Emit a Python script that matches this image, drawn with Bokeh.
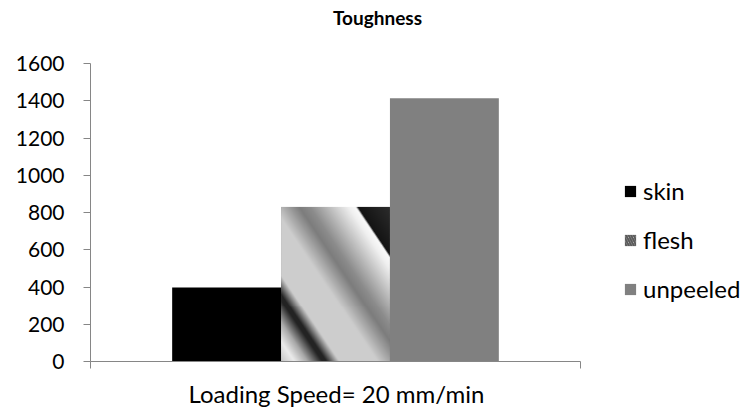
import numpy as np
from bokeh.plotting import figure
from bokeh.models import (Range1d, FixedTicker, Legend, LegendItem, Label,
                          Title, ColumnDataSource)
from bokeh.embed import file_html
from bokeh.resources import INLINE

# ---- data ----
title_text = "Toughness"
categories = ["Loading Speed= 20 mm/min"]
series = ["skin", "flesh", "unpeeled"]
values = [397, 830, 1413]
y_ticks = [0, 200, 400, 600, 800, 1000, 1200, 1400, 1600]
colors = ["#000000", "#d0d0d0", "#808080"]

FONT = "Lato"
AXIS_COLOR = "#868686"

# layout (pixels)
W_FIG, H_FIG = 746, 417
LEFT, BOTTOM = 90, 56          # frame starts at left=90, ends at bottom y=361
AXIS_PX = 490                   # length of the x axis
VAL_PX = 298                    # pixels from 0 to 1600
frame_w = W_FIG - LEFT
frame_h = H_FIG - BOTTOM
y_max = y_ticks[-1]

p = figure(width=W_FIG, height=H_FIG, output_backend="svg", toolbar_location=None,
           x_range=Range1d(0, len(categories) * frame_w / AXIS_PX),
           y_range=Range1d(0, y_max * frame_h / VAL_PX),
           min_border_left=LEFT, min_border_right=0, min_border_top=0,
           min_border_bottom=BOTTOM)
p.outline_line_color = None
p.xgrid.visible = False
p.ygrid.visible = False
p.background_fill_color = "white"
p.border_fill_color = "white"

# bar geometry: Excel gap width 150 %
bw = 1.0 / (len(series) + 1.5)
renderers = []
for i, (s, v, c) in enumerate(zip(series, values, colors)):
    cx = 0.5 + (i - (len(series) - 1) / 2) * bw
    src = ColumnDataSource(dict(x=[cx], top=[v]))
    if s == "flesh":
        r = p.vbar(x="x", top="top", bottom=0, width=bw, source=src,
                   fill_color=c, line_color=None,
                   hatch_pattern="left_diagonal_line", hatch_color="#5a5a5a",
                   hatch_scale=5, hatch_weight=2)
        # metallic diagonal texture drawn over the bar
        H, W = 156, 109
        rows, cols = np.mgrid[0:H, 0:W]
        ys = (H - 1) - rows
        u = 3.0 * cols - 2.0 * ys
        umin, umax = -2.0 * (H - 1), 3.0 * (W - 1)
        t = (u - umin) / (umax - umin)
        tp = [0.0, 0.06, 0.12, 0.19, 0.21, 0.27, 0.45, 0.57, 0.62, 0.80, 0.835, 0.845, 1.0]
        gp = [200, 235, 170, 35, 35, 205, 205, 125, 140, 240, 250, 20, 45]
        g = np.interp(t, tp, gp).astype(np.uint8)
        img = np.empty((H, W), dtype=np.uint32)
        view = img.view(dtype=np.uint8).reshape((H, W, 4))
        view[..., 0] = g
        view[..., 1] = g
        view[..., 2] = g
        view[..., 3] = 255
        p.image_rgba(image=[img], x=cx - bw / 2, y=0, dw=bw, dh=v)
    else:
        r = p.vbar(x="x", top="top", bottom=0, width=bw, source=src,
                   fill_color=c, line_color=None)
    renderers.append(r)

# axes
p.yaxis.ticker = FixedTicker(ticks=y_ticks)
p.yaxis.bounds = (0, y_max)
p.yaxis.axis_line_color = AXIS_COLOR
p.yaxis.major_tick_line_color = AXIS_COLOR
p.yaxis.major_tick_out = 7
p.yaxis.major_tick_in = 0
p.yaxis.minor_tick_line_color = None
p.yaxis.major_label_text_font = FONT
p.yaxis.major_label_text_font_size = "21px"
p.yaxis.major_label_text_color = "#000000"
p.yaxis.major_label_standoff = 19

# x axis: only the category boundary marks (as minor ticks, no labels)
p.xaxis.ticker = FixedTicker(ticks=[], minor_ticks=[0, len(categories)])
p.xaxis.bounds = (0, len(categories))
p.xaxis.axis_line_color = AXIS_COLOR
p.xaxis.major_tick_line_color = None
p.xaxis.minor_tick_line_color = AXIS_COLOR
p.xaxis.minor_tick_out = 7
p.xaxis.minor_tick_in = 0
p.xaxis.major_label_standoff = 0

# category caption under the x axis, centred on the axis (not on the frame)
p.add_layout(Title(text=categories[0], align="left", offset=98,
                   standoff=17, text_font=FONT, text_font_style="normal",
                   text_font_size="24px", text_color="#000000"), "below")

# legend (inside the extended frame, right of the axis)
legend = Legend(items=[LegendItem(label=s, renderers=[r]) for s, r in zip(series, renderers)],
                location=(533, 58), orientation="vertical",
                border_line_color=None, background_fill_alpha=0,
                padding=0, margin=0, spacing=20,
                glyph_width=14, glyph_height=14, label_standoff=6,
                label_text_font=FONT, label_text_font_size="24px",
                label_text_color="#000000", label_height=28)
p.add_layout(legend, "center")

# title
p.add_layout(Label(x=287, y=344, x_units="screen", y_units="screen",
                   text=title_text, text_font=FONT, text_font_style="bold",
                   text_font_size="19px", text_align="center",
                   text_baseline="middle", text_color="#000000"))

open("out.html", "w").write(file_html(p, INLINE))
